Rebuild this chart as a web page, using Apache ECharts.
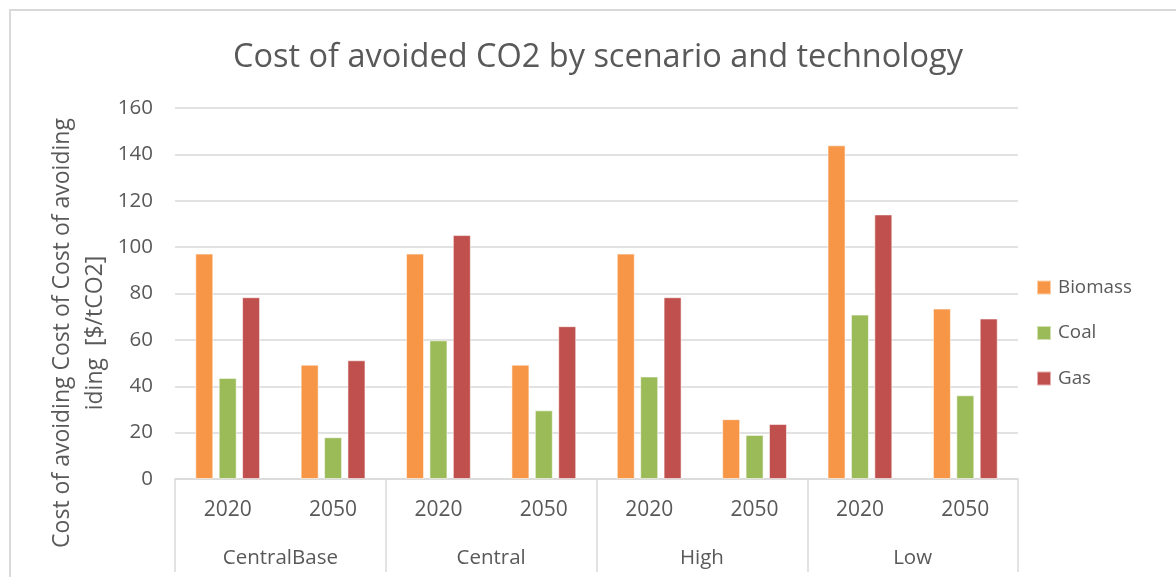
<!DOCTYPE html>
<html>
<head>
<meta charset="utf-8">
<script src="https://cdn.jsdelivr.net/npm/echarts@6/dist/echarts.min.js"></script>
<style>
  html, body { margin: 0; padding: 0; background: #fff; }
  #chart { width: 1176px; height: 577px; }
</style>
</head>
<body>
<div id="chart"></div>
<script>
// Scenario groups and the years inside each group
const scenarios = ['CentralBase', 'Central', 'High', 'Low'];
const years = ['2020', '2050'];
const yearCategories = ['2020', '2050', '2020', '2050', '2020', '2050', '2020', '2050'];

// Cost of avoided CO2 [$/tCO2], ordered CentralBase 2020, 2050, Central 2020, 2050, ...
const biomass = [97.2, 49.3, 97.2, 49.3, 97.2, 25.8, 143.9, 73.5];
const coal    = [43.6, 18.0, 59.8, 29.6, 44.2, 19.0, 70.9, 36.1];
const gas     = [78.4, 51.2, 105.2, 65.9, 78.4, 23.7, 114.1, 69.2];

const yTicks = [0, 20, 40, 60, 80, 100, 120, 140, 160];

const FONT = '"Open Sans", "Noto Sans", sans-serif';
const TEXT = '#595959';
const LINE = '#d9d9d9';

const chart = echarts.init(document.getElementById('chart'), null, { renderer: 'canvas' });

function barSeries(name, data, color) {
  return {
    name: name,
    type: 'bar',
    data: data,
    barWidth: 18,
    barGap: '30%',
    itemStyle: { color: color, borderColor: 'rgba(255,255,255,0.55)', borderWidth: 1 },
    emphasis: { disabled: true }
  };
}

chart.setOption({
  backgroundColor: '#fff',
  animation: false,
  textStyle: { fontFamily: FONT },
  title: {
    text: 'Cost of avoided CO2 by scenario and technology',
    left: 593,
    top: 36,
    textAlign: 'center',
    textStyle: { fontFamily: FONT, fontSize: 32.5, fontWeight: 'normal', color: TEXT }
  },
  legend: {
    orient: 'vertical',
    left: 1031,
    top: 273,
    itemWidth: 14,
    itemHeight: 14,
    itemGap: 26.5,
    icon: 'rect',
    textStyle: { fontFamily: FONT, fontSize: 18.8, color: TEXT, padding: [0, 0, 0, 2] },
    data: ['Biomass', 'Coal', 'Gas']
  },
  grid: { left: 175, right: 158, top: 108, bottom: 98, containLabel: false },
  xAxis: [
    {
      type: 'category',
      data: yearCategories,
      position: 'bottom',
      axisLine: { show: true, lineStyle: { color: LINE, width: 1.5 } },
      axisTick: { show: false },
      axisLabel: { margin: 21, fontFamily: FONT, fontSize: 21, color: TEXT }
    },
    {
      type: 'category',
      data: scenarios,
      position: 'bottom',
      axisLine: { show: false },
      axisTick: { show: true, length: 93, inside: false, lineStyle: { color: LINE, width: 1.5 } },
      axisLabel: { margin: 69, fontFamily: FONT, fontSize: 20.5, color: TEXT }
    }
  ],
  yAxis: {
    type: 'value',
    min: yTicks[0],
    max: yTicks[yTicks.length - 1],
    interval: 20,
    axisLine: { show: false },
    axisTick: { show: false },
    axisLabel: { margin: 22, fontFamily: FONT, fontSize: 20.5, color: TEXT },
    splitLine: { lineStyle: { color: LINE, width: 1.5 } }
  },
  series: [
    barSeries('Biomass', biomass, '#F79646'),
    barSeries('Coal', coal, '#9BBB59'),
    barSeries('Gas', gas, '#C0504D')
  ],
  graphic: [
    {
      type: 'rect',
      silent: true,
      shape: { x: 10, y: 10, width: 1300, height: 700 },
      style: { fill: 'none', stroke: LINE, lineWidth: 2 }
    },
    {
      type: 'text',
      silent: true,
      x: 79,
      y: 333,
      rotation: Math.PI / 2,
      style: {
        text: 'Cost of avoiding Cost of Cost of avoiding\niding  [$/tCO2]',
        fontFamily: FONT,
        fontSize: 23,
        lineHeight: 33,
        fill: TEXT,
        align: 'center',
        verticalAlign: 'middle'
      }
    }
  ]
});
</script>
</body>
</html>
